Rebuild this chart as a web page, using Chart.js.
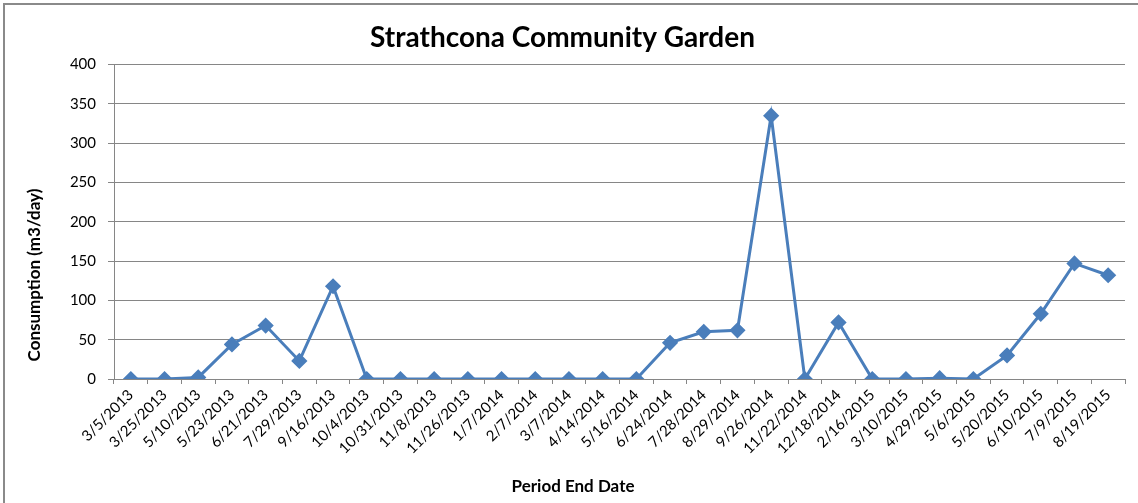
<!DOCTYPE html>
<html lang="en">

<head>
    <meta charset="UTF-8">
    <title>Strathcona Community Garden</title>
    <script src="https://cdn.jsdelivr.net/npm/chart.js"></script>
    <style>
        html, body { margin: 0; padding: 0; background: #fff; }
        .moldura {
            position: absolute; left: 3px; top: 3px; width: 1135px; height: 500px;
            border-top: 2px solid #8a8a8a; border-left: 2px solid #8a8a8a;
            box-sizing: border-box; pointer-events: none;
        }
        .caixa { position: absolute; left: 0; top: 0; width: 1138px; height: 503px; }
    </style>
</head>

<body>
    <div class="caixa"><canvas id="grafico_consumo"></canvas></div>
    <div class="moldura"></div>

<script>
    const datas = ['3/5/2013', '3/25/2013', '5/10/2013', '5/23/2013', '6/21/2013', '7/29/2013',
        '9/16/2013', '10/4/2013', '10/31/2013', '11/8/2013', '11/26/2013', '1/7/2014', '2/7/2014',
        '3/7/2014', '4/14/2014', '5/16/2014', '6/24/2014', '7/28/2014', '8/29/2014', '9/26/2014',
        '11/22/2014', '12/18/2014', '2/16/2015', '3/10/2015', '4/29/2015', '5/6/2015', '5/20/2015',
        '6/10/2015', '7/9/2015', '8/19/2015'];
    const consumo = [0, 0, 2, 44, 68, 23, 118, 0, 0, 0, 0, 0, 0, 0, 0, 0, 46, 60, 62, 335,
        0, 72, 0, 0, 1, 0, 30, 83, 147, 132];
    const eixoY = [0, 50, 100, 150, 200, 250, 300, 350, 400];

    const titulo = 'Strathcona Community Garden';
    const tituloX = 'Period End Date';
    const tituloY = 'Consumption (m3/day)';

    const fonte = 'Lato';
    const cinza = '#868686';
    const azul = '#4a7ebb';

    // titulos dos eixos (posicionados como no Excel, fora do centro)
    const titulosEixos = {
        id: 'titulosEixos',
        afterDraw(chart) {
            const { ctx, chartArea } = chart;
            ctx.save();
            ctx.font = `bold 17px ${fonte}`;
            ctx.fillStyle = '#000';
            ctx.textAlign = 'center';
            ctx.textBaseline = 'middle';
            ctx.fillText(tituloX, chart.width / 2 + 4, 487);
            ctx.translate(35, chartArea.bottom - 104);
            ctx.rotate(-Math.PI / 2);
            ctx.fillText(tituloY, 0, 0);
            ctx.restore();
        }
    };

    const ctx = document.getElementById('grafico_consumo').getContext('2d');
    new Chart(ctx, {
        type: 'line',
        data: {
            labels: datas,
            datasets: [{
                label: 'Consumption',
                data: consumo,
                borderColor: azul,
                backgroundColor: azul,
                borderWidth: 3,
                pointStyle: 'rectRot',
                pointRadius: 6,
                pointBackgroundColor: azul,
                pointBorderColor: azul,
                tension: 0
            }]
        },
        options: {
            responsive: true,
            maintainAspectRatio: false,
            animation: false,
            layout: { padding: { left: 0, right: 13, top: 0, bottom: 0 } },
            plugins: {
                legend: { display: false },
                tooltip: { enabled: false },
                title: {
                    display: true,
                    text: titulo,
                    color: '#000',
                    font: { family: fonte, size: 28, weight: 'bold' },
                    padding: { top: 21, bottom: 10 }
                }
            },
            scales: {
                x: {
                    offset: true,
                    grid: { offset: true, drawOnChartArea: false, drawTicks: true, tickLength: 5, color: cinza },
                    border: { display: true, color: cinza },
                    ticks: {
                        autoSkip: false,
                        minRotation: 45,
                        maxRotation: 45,
                        padding: 2,
                        color: '#000',
                        font: { family: fonte, size: 15 }
                    },
                    afterFit(scale) { scale.height = 124; }
                },
                y: {
                    min: 0,
                    max: 400,
                    afterBuildTicks(scale) { scale.ticks = eixoY.map(v => ({ value: v })); },
                    grid: { color: cinza, drawTicks: true, tickLength: 6 },
                    border: { display: true, color: cinza },
                    ticks: {
                        padding: 12,
                        color: '#000',
                        font: { family: fonte, size: 15 }
                    },
                    afterFit(scale) { scale.width = 114; }
                }
            }
        },
        plugins: [titulosEixos]
    });
</script>
</body>

</html>
